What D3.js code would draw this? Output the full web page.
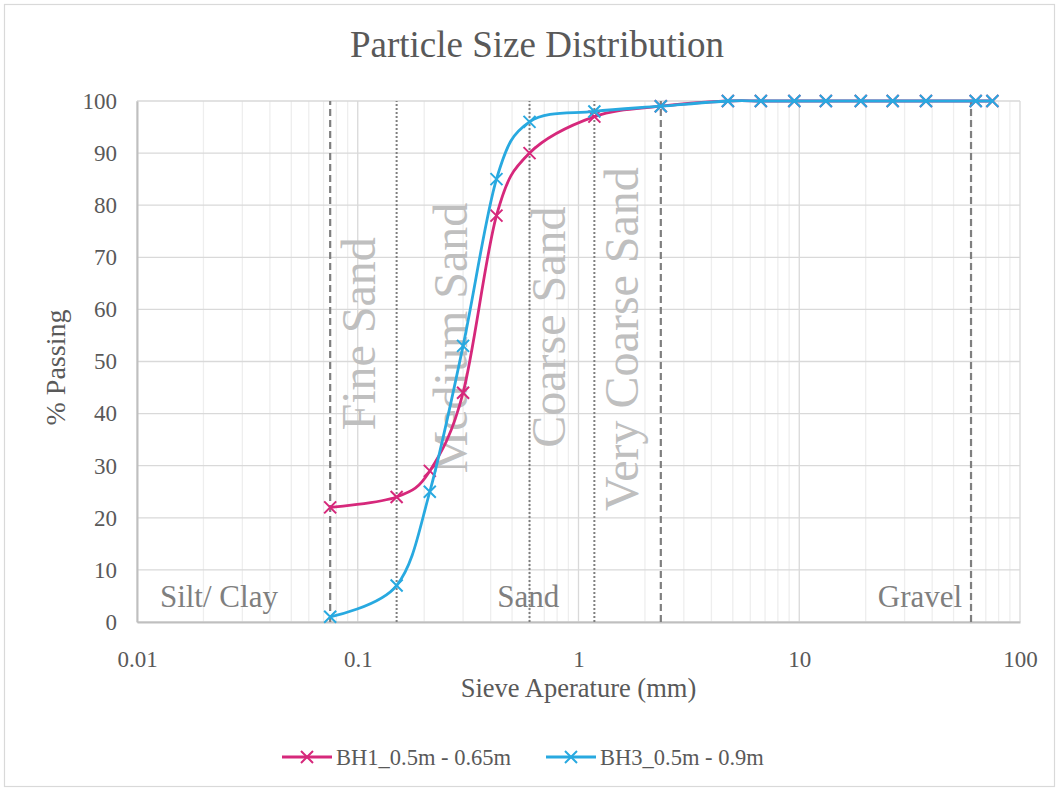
<!DOCTYPE html>
<html>
<head>
<meta charset="utf-8">
<script src="https://cdn.jsdelivr.net/npm/d3@7"></script>
<style>
  body { margin: 0; background: #fff; }
  svg text { font-family: "Liberation Serif", "Times New Roman", serif; }
</style>
</head>
<body>
<div id="chart"></div>
<script>
// sieve sizes (mm) and % passing
const sieveSizes = [0.075, 0.15, 0.212, 0.3, 0.425, 0.6, 1.18, 2.36, 4.75, 6.7, 9.5, 13.2, 19, 26.5, 37.5, 63, 75];
const bh1Passing = [22, 24, 29, 44, 78, 90, 97, 99, 100, 100, 100, 100, 100, 100, 100, 100, 100];
const bh3Passing = [1, 7, 25, 53, 85, 96, 98, 99, 100, 100, 100, 100, 100, 100, 100, 100, 100];
const seriesNames = ['BH1_0.5m - 0.65m', 'BH3_0.5m - 0.9m'];

const xTicks = [0.01, 0.1, 1, 10, 100];
const xTickLabels = ['0.01', '0.1', '1', '10', '100'];
const yTicks = [0, 10, 20, 30, 40, 50, 60, 70, 80, 90, 100];

// soil class boundaries (mm)
const dashedBounds = [0.075, 2.36, 60];
const dottedBounds = [0.15, 0.6, 1.18];

// rotated sand-class labels: text, baseline (mm), centre (% passing)
const zoneNames = ['Fine Sand', 'Medium Sand', 'Coarse Sand', 'Very Coarse Sand'];
const zoneAt = [0.12, 0.313, 0.869, 1.86];
const zoneMid = [55.3, 54.5, 56.6, 54.3];

// bottom labels: text, left edge (mm), baseline (% passing)
const classNames = ['Silt/ Clay', 'Sand', 'Gravel'];
const classAt = [0.0127, 0.428, 22.7];
const classBase = 2.9;

const W = 1059, H = 791;
const margin = {top: 101, right: 39, bottom: 169, left: 137};
const colors = ['#d6287b', '#28a9e0'];
const serif = '"Liberation Serif", "Times New Roman", serif';

const svg = d3.select('#chart').append('svg')
    .attr('width', W)
    .attr('height', H)
    .attr('font-family', serif);

svg.append('rect')
    .attr('x', 4.5).attr('y', 4.5)
    .attr('width', W - 9).attr('height', H - 9)
    .attr('fill', '#fff')
    .attr('stroke', '#d9d9d9')
    .attr('stroke-width', 1.2);

const x = d3.scaleLog()
    .domain([0.01, 100])
    .range([margin.left, W - margin.right]);

const y = d3.scaleLinear()
    .domain([0, 100])
    .range([H - margin.bottom, margin.top]);

// minor vertical grid (2..9 in each decade)
const minor = [];
xTicks.slice(0, -1).forEach(d => {
  for (let k = 2; k <= 9; k++) minor.push(d * k);
});

svg.append('g').selectAll('line')
    .data(minor)
  .enter().append('line')
    .attr('x1', d => x(d)).attr('x2', d => x(d))
    .attr('y1', y(0)).attr('y2', y(100))
    .attr('stroke', '#eeeeee')
    .attr('stroke-width', 1.3);

// major grid
svg.append('g').selectAll('line')
    .data(xTicks)
  .enter().append('line')
    .attr('x1', d => x(d)).attr('x2', d => x(d))
    .attr('y1', y(0)).attr('y2', y(100))
    .attr('stroke', '#d9d9d9')
    .attr('stroke-width', 1.3);

svg.append('g').selectAll('line')
    .data(yTicks)
  .enter().append('line')
    .attr('x1', x(0.01)).attr('x2', x(100))
    .attr('y1', d => y(d)).attr('y2', d => y(d))
    .attr('stroke', '#d9d9d9')
    .attr('stroke-width', 1.3);

// axes
const xAxis = svg.append('g')
    .attr('transform', 'translate(0,' + y(0) + ')')
    .call(d3.axisBottom(x).tickValues(xTicks).tickFormat((d, i) => xTickLabels[i]).tickSize(0).tickPadding(29));
xAxis.attr('font-family', serif);
xAxis.select('.domain').attr('stroke', '#bfbfbf').attr('stroke-width', 2);
xAxis.selectAll('text')
    .attr('font-size', 23)
    .attr('fill', '#595959');

const yAxis = svg.append('g')
    .attr('transform', 'translate(' + x(0.01) + ',0)')
    .call(d3.axisLeft(y).tickValues(yTicks).tickSize(0).tickPadding(20));
yAxis.attr('font-family', serif);
yAxis.select('.domain').attr('stroke', '#bfbfbf').attr('stroke-width', 2);
yAxis.selectAll('text')
    .attr('font-size', 23)
    .attr('fill', '#595959');

// boundary lines
svg.append('g').selectAll('line')
    .data(dashedBounds)
  .enter().append('line')
    .attr('x1', d => x(d)).attr('x2', d => x(d))
    .attr('y1', y(0)).attr('y2', y(100))
    .attr('stroke', '#7f7f7f')
    .attr('stroke-width', 2.2)
    .attr('stroke-dasharray', '7,4');

svg.append('g').selectAll('line')
    .data(dottedBounds)
  .enter().append('line')
    .attr('x1', d => x(d)).attr('x2', d => x(d))
    .attr('y1', y(0)).attr('y2', y(100))
    .attr('stroke', '#7f7f7f')
    .attr('stroke-width', 2)
    .attr('stroke-dasharray', '2,2');

// zone labels
svg.append('g').selectAll('text')
    .data(zoneNames)
  .enter().append('text')
    .attr('transform', (d, i) => 'translate(' + x(zoneAt[i]) + ',' + y(zoneMid[i]) + ') rotate(-90)')
    .attr('text-anchor', 'middle')
    .attr('font-size', 48)
    .attr('fill', '#bfbfbf')
    .text(d => d);

svg.append('g').selectAll('text')
    .data(classNames)
  .enter().append('text')
    .attr('x', (d, i) => x(classAt[i]))
    .attr('y', y(classBase))
    .attr('font-size', 31)
    .attr('fill', '#7f7f7f')
    .text(d => d);

// series
const series = [bh1Passing, bh3Passing].map((vals, i) =>
  sieveSizes.map((s, j) => ({size: s, pass: vals[j]})));

const line = d3.line()
    .x(d => x(d.size))
    .y(d => y(d.pass))
    .curve(d3.curveCardinal.tension(0));

const cross = 6;
series.forEach((set, i) => {
  const g = svg.append('g');
  g.append('path')
      .datum(set)
      .attr('fill', 'none')
      .attr('stroke', colors[i])
      .attr('stroke-width', 2.8)
      .attr('d', line);
  g.selectAll('path.mk')
      .data(set)
    .enter().append('path')
      .attr('class', 'mk')
      .attr('d', d => {
        const cx = x(d.size), cy = y(d.pass);
        return 'M' + (cx - cross) + ',' + (cy - cross) + 'L' + (cx + cross) + ',' + (cy + cross) +
               'M' + (cx - cross) + ',' + (cy + cross) + 'L' + (cx + cross) + ',' + (cy - cross);
      })
      .attr('stroke', colors[i])
      .attr('stroke-width', 2);
});

// title and axis titles
svg.append('text')
    .attr('x', 537)
    .attr('y', 57)
    .attr('text-anchor', 'middle')
    .attr('font-size', 37)
    .attr('fill', '#595959')
    .text('Particle Size Distribution');

svg.append('text')
    .attr('x', (x(0.01) + x(100)) / 2)
    .attr('y', 697)
    .attr('text-anchor', 'middle')
    .attr('font-size', 26.5)
    .attr('fill', '#595959')
    .text('Sieve Aperature (mm)');

svg.append('text')
    .attr('transform', 'translate(65,' + ((y(0) + y(100)) / 2 + 6) + ') rotate(-90)')
    .attr('text-anchor', 'middle')
    .attr('font-size', 28)
    .attr('fill', '#595959')
    .text('% Passing');

// legend
const legendX = [282, 546];
const legend = svg.append('g').selectAll('g')
    .data(seriesNames)
  .enter().append('g')
    .attr('transform', (d, i) => 'translate(' + legendX[i] + ',757)');
legend.append('line')
    .attr('x1', 0).attr('x2', 50)
    .attr('stroke', (d, i) => colors[i])
    .attr('stroke-width', 2.8);
legend.append('path')
    .attr('d', 'M19,-6L31,6M19,6L31,-6')
    .attr('stroke', (d, i) => colors[i])
    .attr('stroke-width', 2);
legend.append('text')
    .attr('x', 54)
    .attr('dy', '0.35em')
    .attr('font-size', 22.5)
    .attr('fill', '#595959')
    .text(d => d);
</script>
</body>
</html>
